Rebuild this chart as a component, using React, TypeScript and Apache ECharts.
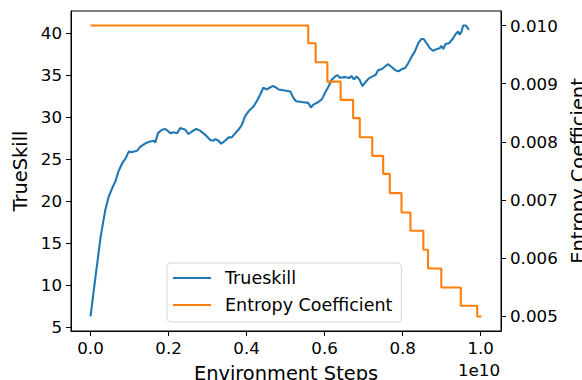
import React, { useEffect, useRef } from "react";
import * as echarts from "echarts";

const trueskillX = [0.0, 0.013, 0.026, 0.038, 0.047, 0.056, 0.064, 0.072, 0.081, 0.09, 0.098, 0.107, 0.119, 0.128, 0.141, 0.153, 0.162, 0.166, 0.173, 0.183, 0.192, 0.205, 0.213, 0.222, 0.23, 0.243, 0.251, 0.26, 0.271, 0.281, 0.294, 0.307, 0.315, 0.32, 0.328, 0.335, 0.345, 0.354, 0.362, 0.371, 0.379, 0.388, 0.396, 0.405, 0.418, 0.426, 0.435, 0.443, 0.452, 0.459, 0.467, 0.473, 0.482, 0.494, 0.512, 0.52, 0.527, 0.541, 0.558, 0.565, 0.571, 0.584, 0.593, 0.601, 0.61, 0.618, 0.627, 0.633, 0.639, 0.652, 0.663, 0.669, 0.675, 0.682, 0.689, 0.697, 0.706, 0.714, 0.723, 0.731, 0.737, 0.746, 0.754, 0.763, 0.771, 0.78, 0.789, 0.797, 0.806, 0.814, 0.823, 0.831, 0.84, 0.848, 0.854, 0.861, 0.87, 0.878, 0.887, 0.895, 0.899, 0.904, 0.91, 0.919, 0.928, 0.936, 0.942, 0.946, 0.951, 0.955, 0.962, 0.968, 0.97];
const trueskillY = [6.3, 11.1, 15.8, 19.0, 20.6, 21.6, 22.4, 23.6, 24.5, 25.1, 25.9, 25.85, 26.0, 26.5, 26.9, 27.1, 27.2, 27.0, 28.1, 28.5, 28.6, 28.1, 28.2, 28.1, 28.7, 28.5, 28.0, 28.3, 28.6, 28.4, 27.9, 27.3, 27.2, 27.4, 27.2, 26.85, 27.2, 27.6, 27.6, 28.1, 28.5, 29.1, 30.1, 30.7, 31.3, 31.9, 32.7, 33.5, 33.3, 33.5, 33.7, 33.6, 33.3, 33.2, 33.05, 32.3, 31.9, 31.8, 31.7, 31.15, 31.5, 31.8, 32.15, 32.9, 33.65, 34.45, 34.85, 35.0, 34.7, 34.77, 34.65, 34.9, 34.5, 34.85, 34.5, 33.7, 34.25, 34.65, 34.85, 35.05, 35.6, 35.7, 36.0, 36.3, 36.0, 35.6, 35.45, 35.7, 35.85, 36.4, 37.2, 37.8, 38.8, 39.3, 39.3, 38.8, 38.2, 37.9, 38.1, 38.2, 38.5, 38.1, 38.7, 38.8, 39.3, 39.9, 40.2, 39.8, 40.2, 40.9, 40.9, 40.5, 40.4];

const entropyX = [0.0, 0.558, 0.577, 0.607, 0.641, 0.673, 0.69, 0.722, 0.75, 0.767, 0.797, 0.82, 0.853, 0.865, 0.899, 0.949, 0.991, 1.002];
const entropyY = [0.01, 0.009696, 0.00937, 0.009036, 0.008722, 0.008408, 0.008081, 0.00776, 0.007451, 0.00712, 0.006786, 0.006472, 0.006146, 0.005824, 0.005498, 0.005184, 0.005, 0.005];

const xTicks = [0, 0.2, 0.4, 0.6, 0.8, 1.0];
const leftTicks = [5, 10, 15, 20, 25, 30, 35, 40];
const rightTicks = [0.005, 0.006, 0.007, 0.008, 0.009, 0.01];

const FONT = "DejaVu Sans";

export default function App() {
  const ref = useRef<HTMLDivElement>(null);
  useEffect(() => {
    document.body.style.margin = "0";
    const chart = echarts.init(ref.current!, null, { renderer: "svg" });
    const axisLine = { show: true, onZero: false, lineStyle: { color: "#000", width: 1 } };
    const tick = { show: true, length: 5, lineStyle: { color: "#000", width: 1 } };
    chart.setOption({
      animation: false,
      backgroundColor: "#fff",
      textStyle: { fontFamily: FONT },
      grid: { left: 71, right: 81, top: 11, bottom: 49, show: true, borderColor: "#000", borderWidth: 1, backgroundColor: "transparent", containLabel: false, outerBoundsMode: "none" },
      xAxis: {
        type: "value",
        min: -0.05,
        max: 1.052,
        axisLine,
        splitLine: { show: false },
        axisTick: { ...tick, customValues: xTicks },
        axisLabel: { customValues: xTicks, margin: 8, color: "#000", fontSize: 16.7, fontFamily: FONT, formatter: (v: number) => v.toFixed(1) },
        name: "Environment Steps",
        nameLocation: "middle",
        nameGap: 33,
        nameTextStyle: { color: "#000", fontSize: 19.4, fontFamily: FONT },
      },
      yAxis: [
        {
          type: "value",
          min: 4.57,
          max: 42.63,
          position: "left",
          axisLine,
          splitLine: { show: false },
          axisTick: { ...tick, customValues: leftTicks },
          axisLabel: { customValues: leftTicks, margin: 9, color: "#000", fontSize: 16.7, fontFamily: FONT },
          name: "TrueSkill",
          nameLocation: "middle",
          nameGap: 36,
          nameTextStyle: { color: "#000", fontSize: 19.4, fontFamily: FONT },
        },
        {
          type: "value",
          min: 0.00475,
          max: 0.01025,
          position: "right",
          axisLine,
          splitLine: { show: false },
          axisTick: { ...tick, customValues: rightTicks },
          axisLabel: { customValues: rightTicks, margin: 9, color: "#000", fontSize: 16.7, fontFamily: FONT, formatter: (v: number) => v.toFixed(3) },
          name: "Entropy Coefficient",
          nameLocation: "middle",
          nameGap: 62,
          nameTextStyle: { color: "#000", fontSize: 19.4, fontFamily: FONT },
        },
      ],
      legend: {
        orient: "vertical",
        left: 167,
        top: 263,
        width: 238,
        padding: [5, 9, 7, 6],
        itemGap: 7,
        itemWidth: 38,
        itemHeight: 2,
        icon: "rect",
        borderColor: "#d6d6d6",
        borderWidth: 1,
        borderRadius: 4,
        backgroundColor: "rgba(255,255,255,0.8)",
        textStyle: { color: "#000", fontSize: 17.5, fontFamily: FONT, lineHeight: 20, padding: [0, 0, 0, 9] },
        data: ["Trueskill", "Entropy Coefficient"],
      },
      graphic: [
        { type: "text", right: 82, top: 361, style: { text: "1e10", fontSize: 16.7, fontFamily: FONT, fill: "#000" } },
      ],
      series: [
        {
          name: "Trueskill",
          type: "line",
          yAxisIndex: 0,
          showSymbol: false,
          symbol: "none",
          color: "#1f77b4",
          lineStyle: { width: 2.1, color: "#1f77b4" },
          data: trueskillX.map((x, i) => [x, trueskillY[i]]),
          z: 2,
        },
        {
          name: "Entropy Coefficient",
          type: "line",
          yAxisIndex: 1,
          step: "end",
          showSymbol: false,
          symbol: "none",
          color: "#ff7f0e",
          lineStyle: { width: 2.1, color: "#ff7f0e" },
          data: entropyX.map((x, i) => [x, entropyY[i]]),
          z: 3,
        },
      ],
    });
    return () => chart.dispose();
  }, []);
  return <div ref={ref} style={{ position: "absolute", left: 0, top: 0, width: 582, height: 380 }} />;
}
